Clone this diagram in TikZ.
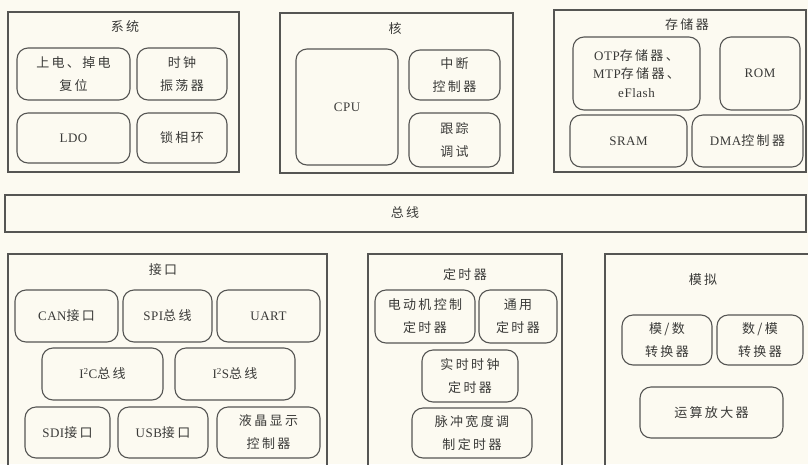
\documentclass[tikz,border=0pt]{standalone}
\usepackage{fontspec}
\setmainfont{Liberation Serif}[LetterSpace=4]
\newfontfamily\cjk{Noto Sans CJK SC}[LetterSpace=18]
\definecolor{bgc}{HTML}{FCFAF1}
\definecolor{linec}{HTML}{555553}
\definecolor{txtc}{HTML}{3A3A38}
\begin{document}
\begin{tikzpicture}[x=1pt,y=-1pt,
  outer/.style={draw=linec, line width=1.4pt},
  inner/.style={draw=linec, line width=1.1pt, rounded corners=11pt, align=center,
     inner sep=0pt, text=txtc, font=\fontsize{13}{23}\selectfont},
  ttl/.style={text=txtc, font=\fontsize{13}{15}\selectfont\cjk}]
\fill[bgc] (0,0) rectangle (808,464);
\useasboundingbox (0,0) rectangle (808,464);
\begin{scope}
\clip (0,0) rectangle (808,464);
% system
\draw[outer] (8,12) rectangle (239,172);
\node[ttl] (tsys) at (125,27) {系统};
\node[inner, minimum width=113pt, minimum height=52pt] (a1) at (73.5,74) {{\cjk 上电、掉电}\\{\cjk 复位}};
\node[inner, minimum width=90pt, minimum height=52pt] (a2) at (182,74) {{\cjk 时钟}\\{\cjk 振荡器}};
\node[inner, minimum width=113pt, minimum height=50pt] (a3) at (73.5,138) {LDO};
\node[inner, minimum width=90pt, minimum height=50pt] (a4) at (182,138) {\cjk 锁相环};
% core
\draw[outer] (280,13) rectangle (513,173);
\node[ttl] (tcore) at (395,29) {核};
\node[inner, minimum width=102pt, minimum height=116pt] (b1) at (347,107) {CPU};
\node[inner, minimum width=91pt, minimum height=50pt] (b2) at (454.5,75) {{\cjk 中断}\\{\cjk 控制器}};
\node[inner, minimum width=91pt, minimum height=54pt] (b3) at (454.5,140) {{\cjk 跟踪}\\{\cjk 调试}};
% memory
\draw[outer] (554,10) rectangle (806,172);
\node[ttl] (tmem) at (687,25) {存储器};
\node[inner, minimum width=127pt, minimum height=73pt, font=\fontsize{13}{18.5}\selectfont] (c1) at (636.5,73.5) {OTP{\cjk 存储器、}\\MTP{\cjk 存储器、}\\eFlash};
\node[inner, minimum width=80pt, minimum height=73pt] (c2) at (760,73.5) {ROM};
\node[inner, minimum width=117pt, minimum height=52pt] (c3) at (628.5,141) {SRAM};
\node[inner, minimum width=111pt, minimum height=52pt] (c4) at (747.5,141) {DMA{\cjk 控制器}};
% bus
\draw[outer] (5,195) rectangle (806,232);
\node[ttl] (tbus) at (405,213) {总线};
% interface
\draw[outer] (8,254) rectangle (327,475);
\node[ttl] (tif) at (163,270) {接口};
\node[inner, minimum width=103pt, minimum height=52pt] (d1) at (66.5,316) {CAN{\cjk 接口}};
\node[inner, minimum width=89pt, minimum height=52pt] (d2) at (167.5,316) {SPI{\cjk 总线}};
\node[inner, minimum width=103pt, minimum height=52pt] (d3) at (268.5,316) {UART};
\node[inner, minimum width=121pt, minimum height=52pt] (d4) at (102.5,374) {I\textsuperscript{2}C{\cjk 总线}};
\node[inner, minimum width=120pt, minimum height=52pt] (d5) at (235,374) {I\textsuperscript{2}S{\cjk 总线}};
\node[inner, minimum width=85pt, minimum height=51pt] (d6) at (67.5,432.5) {SDI{\cjk 接口}};
\node[inner, minimum width=90pt, minimum height=51pt] (d7) at (163,432.5) {USB{\cjk 接口}};
\node[inner, minimum width=103pt, minimum height=51pt] (d8) at (268.5,432.5) {{\cjk 液晶显示}\\{\cjk 控制器}};
% timer
\draw[outer] (368,254) rectangle (562,475);
\node[ttl] (ttim) at (465,275) {定时器};
\node[inner, minimum width=100pt, minimum height=53pt] (e1) at (425,316.5) {{\cjk 电动机控制}\\{\cjk 定时器}};
\node[inner, minimum width=78pt, minimum height=53pt] (e2) at (518,316.5) {{\cjk 通用}\\{\cjk 定时器}};
\node[inner, minimum width=96pt, minimum height=52pt] (e3) at (470,376) {{\cjk 实时时钟}\\{\cjk 定时器}};
\node[inner, minimum width=120pt, minimum height=50pt] (e4) at (472,433) {{\cjk 脉冲宽度调}\\{\cjk 制定时器}};
% analog
\draw[outer] (605,254) rectangle (815,475);
\node[ttl] (tan) at (703,280) {模拟};
\node[inner, minimum width=90pt, minimum height=50pt] (f1) at (667,340) {{\cjk 模/数}\\{\cjk 转换器}};
\node[inner, minimum width=86pt, minimum height=50pt] (f2) at (760,340) {{\cjk 数/模}\\{\cjk 转换器}};
\node[inner, minimum width=143pt, minimum height=51pt] (f3) at (711.5,412.5) {\cjk 运算放大器};
\end{scope}
\end{tikzpicture}
\end{document}
